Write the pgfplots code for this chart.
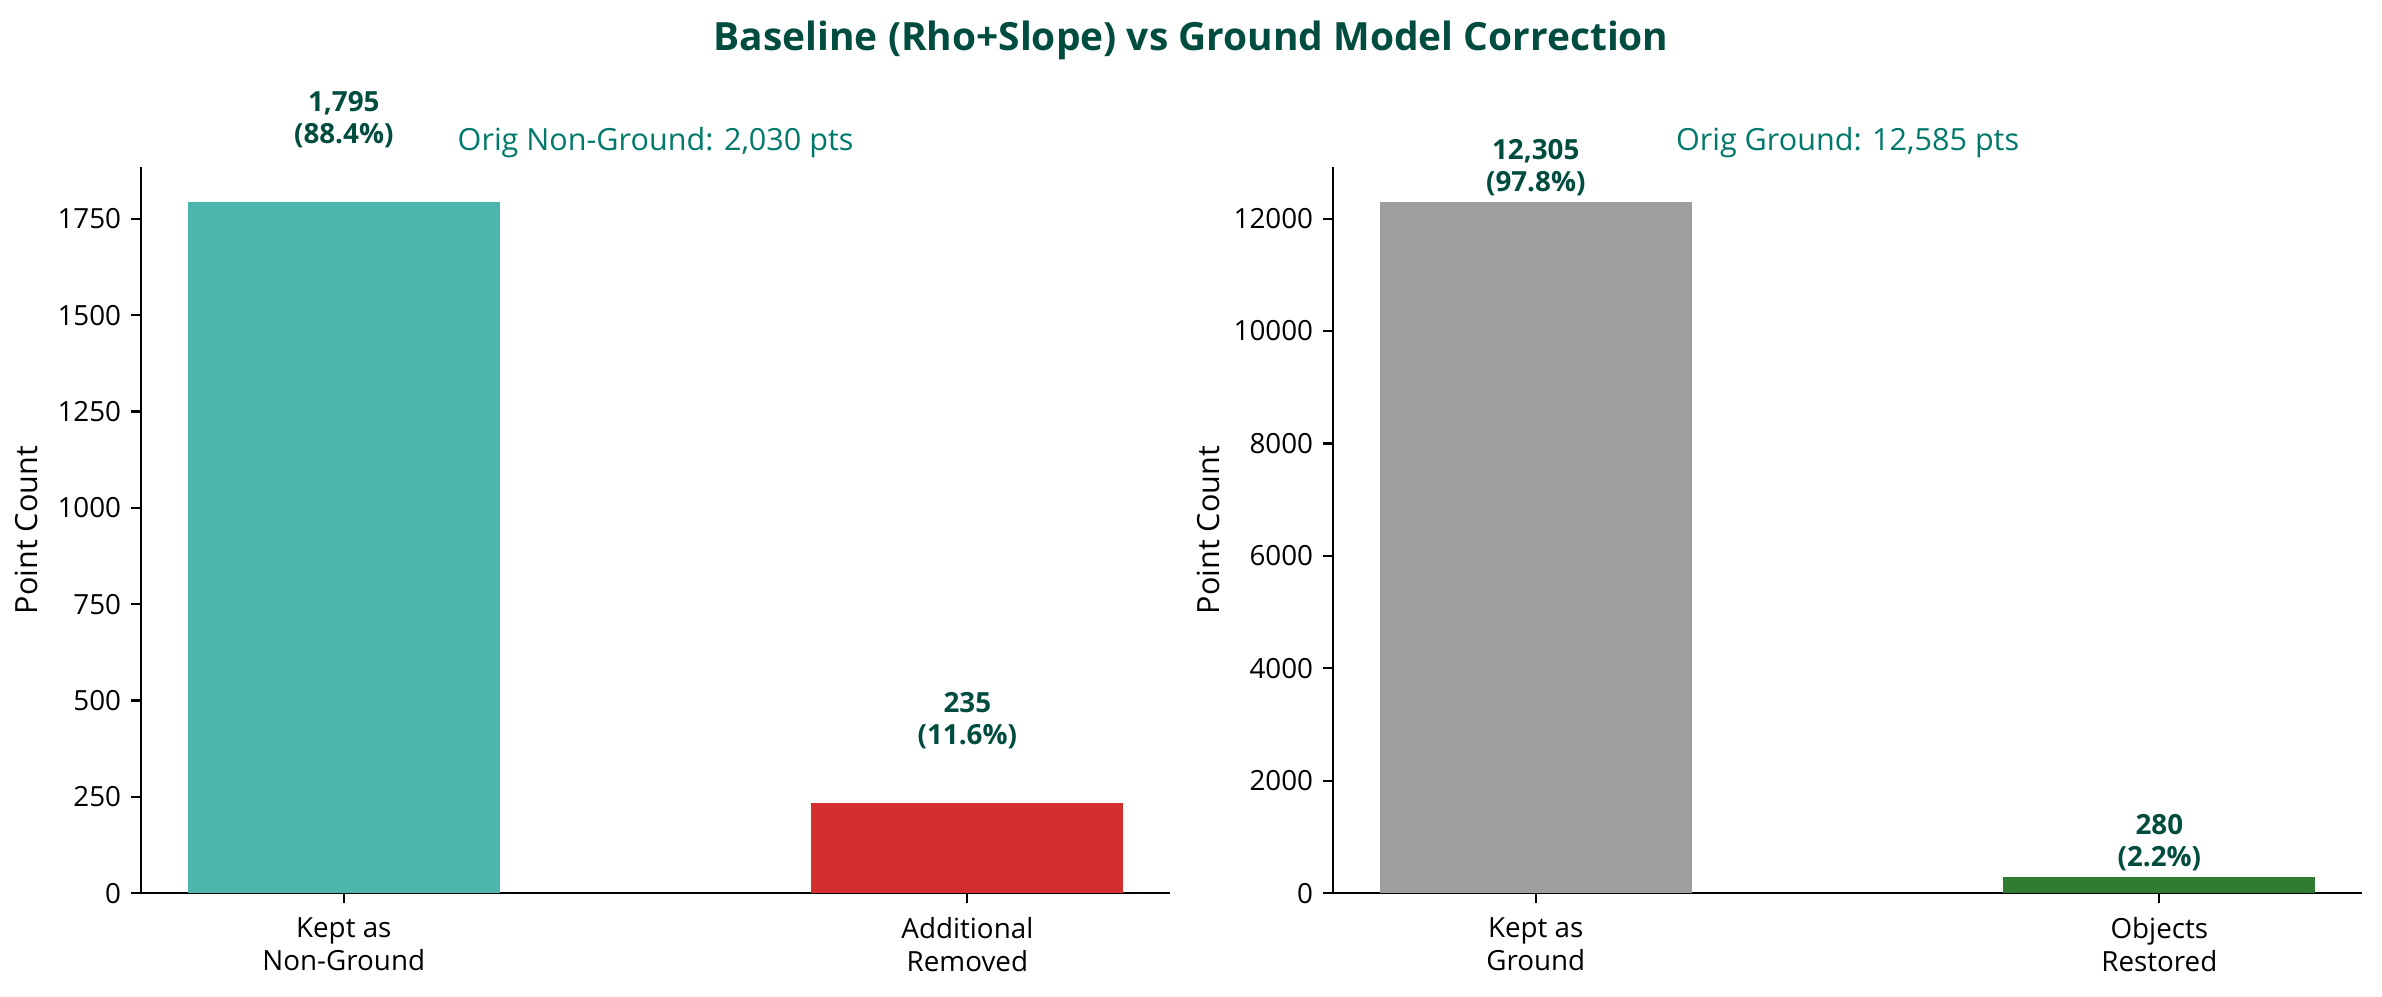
\documentclass[border=0pt]{standalone}
\usepackage{pgfplots}
\pgfplotsset{compat=1.18}
\usepackage{fontspec}
\setmainfont{Open Sans}
\definecolor{cteal}{HTML}{4DB6AC}
\definecolor{cred}{HTML}{D32F2F}
\definecolor{cgray}{HTML}{9E9E9E}
\definecolor{cgreen}{HTML}{2E7D32}
\definecolor{cdark}{HTML}{004D40}
\definecolor{csub}{HTML}{00796B}
\tikzset{annot/.style={font=\bfseries\fontsize{10}{11.5}\selectfont, text=cdark, align=center, anchor=south, inner sep=0pt}}
\pgfplotsset{
  mystyle/.style={
    scale only axis,
    width=370.4pt, height=261.4pt,
    xmin=-0.325, xmax=1.325, ymin=0,
    axis lines=left,
    axis line style={-, black, line width=0.8pt},
    tick style={black, line width=0.8pt},
    tick align=outside,
    major tick length=3.5pt,
    xtick={0,1},
    scaled y ticks=false,
    /pgf/number format/assume math mode=true,
    /pgf/number format/set thousands separator={},
    ticklabel style={font=\fontsize{10}{12}\selectfont},
    xticklabel style={align=center, inner sep=0pt, yshift=-5pt},
    yticklabel style={inner sep=0pt, xshift=-3.5pt},
    title style={at={(axis description cs:0.5,1)}, anchor=base, inner sep=0pt, yshift=0pt,
                 font=\fontsize{11}{13}\selectfont, text=csub},
    ylabel style={font=\fontsize{11}{13}\selectfont},
    clip=false,
  },
}
\begin{document}
\begin{tikzpicture}
\begin{axis}[mystyle,
  ymax=1884.75,
  ytick={0,250,500,750,1000,1250,1500,1750},
  xticklabels={{Kept as\\Non-Ground},{Additional\\Removed}},
  title={Orig Non-Ground: 2,030 pts},
  ylabel={Point Count},
  ylabel style={at={(axis description cs:-0.111,0.5)}, anchor=center},
]
\addplot[ybar, bar width=0.5, bar shift=0pt, fill=cteal, draw=none] coordinates {(0,1795)};
\addplot[ybar, bar width=0.5, bar shift=0pt, fill=cred, draw=none] coordinates {(1,235)};
\node[annot, yshift=19pt] at (axis cs:0,1795) {1,795\\(88.4\%)};
\node[annot, yshift=19pt] at (axis cs:1,235) {235\\(11.6\%)};
\end{axis}
\begin{axis}[mystyle, at={(429.1pt,0pt)}, anchor=south west,
  ymax=12920,
  ytick={0,2000,4000,6000,8000,10000,12000},
  xticklabels={{Kept as\\Ground},{Objects\\Restored}},
  title={Orig Ground: 12,585 pts},
  ylabel={Point Count},
  ylabel style={at={(axis description cs:-0.121,0.5)}, anchor=center},
]
\addplot[ybar, bar width=0.5, bar shift=0pt, fill=cgray, draw=none] coordinates {(0,12305)};
\addplot[ybar, bar width=0.5, bar shift=0pt, fill=cgreen, draw=none] coordinates {(1,280)};
\node[annot, yshift=2pt] at (axis cs:0,12305) {12,305\\(97.8\%)};
\node[annot, yshift=2pt] at (axis cs:1,280) {280\\(2.2\%)};
\end{axis}
\node[font=\bfseries\fontsize{14}{17}\selectfont, text=cdark] at (378pt,307pt) {Baseline (Rho+Slope) vs Ground Model Correction};
\pgfresetboundingbox
\useasboundingbox (-50.8pt,-37.1pt) rectangle (806.7pt,321.5pt);
\end{tikzpicture}
\end{document}
